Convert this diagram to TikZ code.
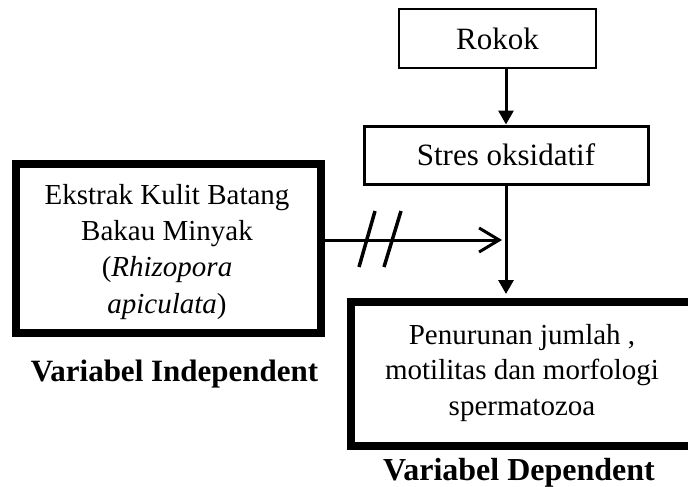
\documentclass[tikz,border=0pt]{standalone}
\usepackage{fontspec}
\setmainfont{Liberation Serif}
\usetikzlibrary{arrows.meta}
\begin{document}
\begin{tikzpicture}[x=1pt,y=-1pt,
  thinbox/.style={draw, line width=2.2pt, inner sep=0pt, font=\fontsize{31}{37}\selectfont},
  thickbox/.style={draw, line width=8pt, inner sep=0pt},
  body/.style={align=center, inner sep=0pt},
  caption/.style={inner sep=0pt, anchor=base},
  varrow/.style={line width=3pt, -{Triangle[length=14pt,width=15pt]}},
  harrow/.style={line width=3pt, -{Straight Barb[length=20pt,width=24pt,line width=3pt]}},
  slash/.style={line width=3.5pt},
]
\clip (0,0) rectangle (688,487);
\node[thinbox, minimum width=197pt, minimum height=59pt] (rokok) at (497.5,38.5) {Rokok};
\node[thinbox, line width=3pt, minimum width=284pt, minimum height=58pt] (stres) at (506,155) {Stres oksidatif};
\node[thickbox, minimum width=305pt, minimum height=169pt] (indbox) at (168.5,248.5) {};
\node[thickbox, minimum width=360pt, minimum height=144pt] (depbox) at (531,374) {};
\node[body, font=\fontsize{29}{36.3}\selectfont] (indtext) at (167,251.8) {Ekstrak Kulit Batang\\Bakau Minyak\\(\textit{Rhizopora}\\\textit{apiculata})};
\node[body, font=\fontsize{29}{35.5}\selectfont] (deptext) at (522,372.8) {Penurunan jumlah ,\\motilitas dan morfologi\\spermatozoa};
\node[caption, font=\fontsize{31}{37}\selectfont\bfseries] (indcap) at (174.5,381) {Variabel Independent};
\node[caption, font=\fontsize{32}{38}\selectfont\bfseries] (depcap) at (519,480) {Variabel Dependent};
% connectors
\draw[varrow] (rokok.south -| stres.north) -- (stres.north);
\draw[varrow] (stres.south) -- ([yshift=4pt]stres.south |- depbox.north);
\coordinate (hs) at ([yshift=8.5pt]indbox.east);
\path (stres.south) ++(-4,0) coordinate (vx);
\coordinate (he) at (vx |- hs);
\draw[harrow] (hs) -- (he);
\draw[slash] (359,267) -- (375,211);
\draw[slash] (384,267) -- (401,211);
\end{tikzpicture}
\end{document}
